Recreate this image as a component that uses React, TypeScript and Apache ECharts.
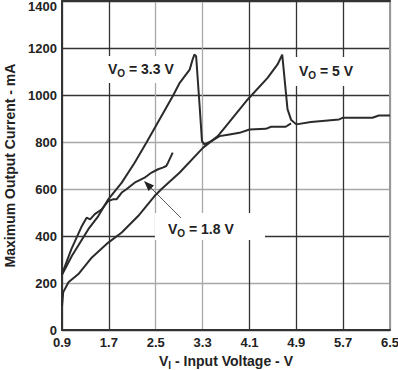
import React, { useEffect, useRef } from "react";
import * as echarts from "echarts";

// X axis ticks (input voltage, V) and Y axis ticks (current, mA)
const xTicks = [0.9, 1.7, 2.5, 3.3, 4.1, 4.9, 5.7, 6.5];
const yTicks = [0, 200, 400, 600, 800, 1000, 1200, 1400];

// VO = 1.8 V
const vo18X = [0.9, 1.06, 1.24, 1.32, 1.38, 1.46, 1.58, 1.69, 1.77, 1.83, 1.92, 2.0, 2.14, 2.31, 2.43, 2.54, 2.62, 2.68, 2.71, 2.79];
const vo18Y = [238, 344, 443, 478, 471, 493, 514, 549, 556, 556, 585, 599, 627, 648, 670, 684, 691, 698, 712, 755];

// VO = 3.3 V
const vo33X = [0.9, 1.07, 1.35, 1.52, 1.69, 1.92, 2.14, 2.34, 2.79, 2.91, 3.08, 3.13, 3.16, 3.19, 3.25, 3.29, 3.33, 3.45, 3.59, 3.76, 3.93, 4.1, 4.38, 4.47, 4.72, 4.81];
const vo33Y = [235, 316, 429, 485, 556, 627, 712, 797, 995, 1052, 1108, 1151, 1172, 1165, 952, 804, 790, 804, 825, 832, 839, 853, 856, 865, 865, 879];

// VO = 5 V
const vo5X = [0.9, 0.92, 1.01, 1.18, 1.41, 1.69, 1.92, 2.2, 2.48, 2.6, 2.91, 3.31, 3.56, 3.7, 4.07, 4.41, 4.58, 4.66, 4.75, 4.81, 4.9, 5.15, 5.63, 5.69, 6.2, 6.31, 6.5];
const vo5Y = [100, 160, 203, 238, 309, 372, 415, 485, 570, 600, 670, 776, 825, 868, 981, 1073, 1130, 1172, 940, 895, 875, 885, 896, 903, 903, 913, 913];

const X0 = xTicks[0];
const XSTEP = xTicks[1] - xTicks[0];
const YMAX = yTicks[yTicks.length - 1];

const pairs = (xs: number[], ys: number[]) => xs.map((x, i) => [x - X0, ys[i]]);

const DARK = "#333333";
const GRAY = "#a8a8a8";
const TEXT = "#222222";
const FONT = "'Liberation Sans', Arial, sans-serif";

export default function App() {
  const ref = useRef<HTMLDivElement>(null);

  useEffect(() => {
    if (!ref.current) return;
    const chart = echarts.init(ref.current, undefined, { renderer: "svg" });

    const lineSeries = (name: string, xs: number[], ys: number[]) => ({
      name,
      type: "line",
      data: pairs(xs, ys),
      showSymbol: false,
      symbol: "none",
      lineStyle: { color: "#2b2b2b", width: 2 },
      z: 5,
    });

    const subLabel = (main: string) => ({
      text: `{a|V}{s|O}{a|${main}}`,
      rich: {
        a: { fontSize: 14, fontWeight: "bold", fontFamily: FONT, fill: TEXT, color: TEXT, lineHeight: 18 },
        s: { fontSize: 10, fontWeight: "bold", fontFamily: FONT, fill: TEXT, color: TEXT, lineHeight: 11, verticalAlign: "bottom" },
      },
      align: "left",
      verticalAlign: "middle",
    });

    chart.setOption({
      animation: false,
      backgroundColor: "#ffffff",
      textStyle: { fontFamily: FONT },
      grid: { left: 62, right: 8, top: 1, bottom: 40, containLabel: false, outerBoundsMode: "none" },
      xAxis: [
        {
          type: "value",
          min: 0,
          max: xTicks[xTicks.length - 1] - X0,
          interval: XSTEP,
          position: "bottom",
          name: "{a|V}{s|I}{a| - Input Voltage - V}",
          nameLocation: "middle",
          nameGap: 22,
          nameTextStyle: {
            rich: {
              a: { fontSize: 14, fontWeight: "bold", color: TEXT, fontFamily: FONT, lineHeight: 18 },
              s: { fontSize: 10, fontWeight: "bold", color: TEXT, fontFamily: FONT, lineHeight: 11, verticalAlign: "bottom" },
            },
          },
          axisLine: { show: true, onZero: false, lineStyle: { color: DARK, width: 2 } },
          axisTick: { show: false },
          axisLabel: {
            margin: 6,
            fontSize: 13,
            fontWeight: "bold",
            color: TEXT,
            fontFamily: FONT,
            formatter: (v: number) => (v + X0).toFixed(1),
          },
          splitLine: {
            show: true,
            lineStyle: { color: [DARK, DARK, GRAY, GRAY, DARK, DARK, DARK, GRAY], width: 1.3 },
          },
        },
        {
          type: "value",
          min: 0,
          max: xTicks[xTicks.length - 1] - X0,
          interval: XSTEP,
          position: "top",
          axisLine: { show: true, onZero: false, lineStyle: { color: DARK, width: 2 } },
          axisTick: { show: false },
          axisLabel: { show: false },
          splitLine: { show: false },
        },
      ],
      yAxis: [
        {
          type: "value",
          min: yTicks[0],
          max: YMAX,
          interval: yTicks[1] - yTicks[0],
          position: "left",
          name: "Maximum Output Current - mA",
          nameLocation: "middle",
          nameGap: 43,
          nameTextStyle: { fontSize: 14, fontWeight: "bold", color: TEXT, fontFamily: FONT },
          axisLine: { show: true, onZero: false, lineStyle: { color: DARK, width: 2 } },
          axisTick: { show: false },
          axisLabel: {
            margin: 5,
            fontSize: 13,
            fontWeight: "bold",
            color: TEXT,
            fontFamily: FONT,
            formatter: (v: number) => (v === YMAX ? `{t|${v}}` : String(v)),
            rich: {
              t: { fontSize: 13, fontWeight: "bold", color: TEXT, fontFamily: FONT, padding: [10, 0, 0, 0] },
            },
          },
          splitLine: {
            show: true,
            lineStyle: { color: [DARK, GRAY, DARK, GRAY, GRAY, DARK, DARK, DARK], width: 1.3 },
          },
        },
        {
          type: "value",
          min: yTicks[0],
          max: YMAX,
          interval: yTicks[1] - yTicks[0],
          position: "right",
          axisLine: { show: true, onZero: false, lineStyle: { color: "#999999", width: 2 } },
          axisTick: { show: false },
          axisLabel: { show: false },
          splitLine: { show: false },
        },
      ],
      series: [
        lineSeries("VO = 1.8 V", vo18X, vo18Y),
        lineSeries("VO = 3.3 V", vo33X, vo33Y),
        lineSeries("VO = 5 V", vo5X, vo5Y),
      ],
      graphic: [
        { type: "rect", z: 50, shape: { x: 104, y: 56, width: 72, height: 27 }, style: { fill: "#ffffff" } },
        { type: "text", z: 51, x: 108, y: 69, style: subLabel(" = 3.3 V") },
        { type: "rect", z: 50, shape: { x: 292, y: 57, width: 68, height: 29 }, style: { fill: "#ffffff" } },
        { type: "text", z: 51, x: 299, y: 71, style: subLabel(" = 5 V") },
        { type: "rect", z: 50, shape: { x: 155, y: 213, width: 110, height: 27 }, style: { fill: "#ffffff" } },
        { type: "text", z: 51, x: 168, y: 229, style: subLabel(" = 1.8 V") },
        { type: "line", z: 52, shape: { x1: 181, y1: 218, x2: 148, y2: 185 }, style: { stroke: "#333333", lineWidth: 0.8 } },
        {
          type: "polygon",
          z: 52,
          shape: { points: [[144, 181], [148.5, 191], [154, 185.5]] },
          style: { fill: "#222222" },
        },
      ],
    });

    return () => chart.dispose();
  }, []);

  return (
    <div
      ref={ref}
      style={{ position: "fixed", left: 0, top: 0, width: 398, height: 370, background: "#fff" }}
    />
  );
}
